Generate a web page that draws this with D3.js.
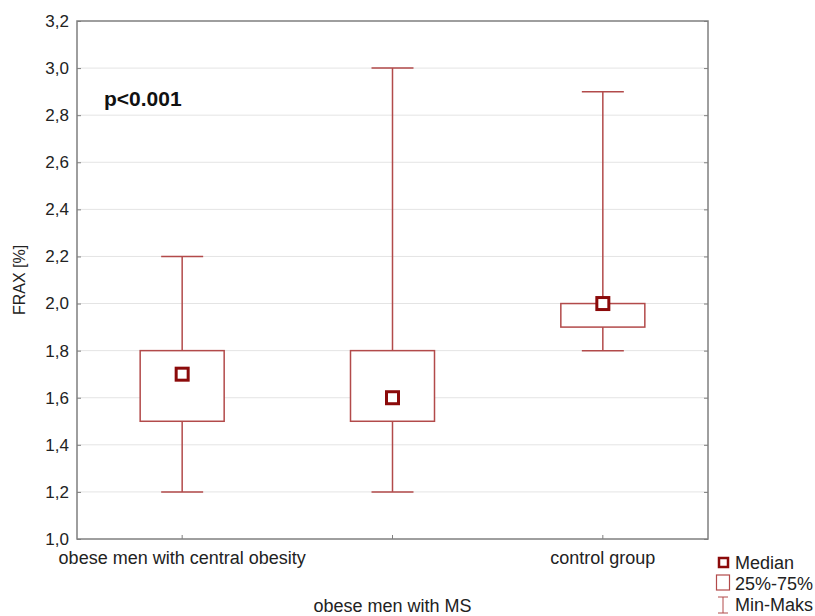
<!DOCTYPE html>
<html>
<head>
<meta charset="utf-8">
<script src="https://cdn.jsdelivr.net/npm/d3@7"></script>
<style>
  body { margin: 0; background: #fff; }
  text { font-family: "Liberation Sans", Arial, sans-serif; }
</style>
</head>
<body>
<svg id="chart" width="815" height="616"></svg>
<script>
// Box plot of FRAX by group

var groups = ["obese men with central obesity", "obese men with MS", "control group"];
var mins    = [1.2, 1.2, 1.8];
var q1s     = [1.5, 1.5, 1.9];
var medians = [1.7, 1.6, 2.0];
var q3s     = [1.8, 1.8, 2.0];
var maxs    = [2.2, 3.0, 2.9];
var yTicks  = [1.0, 1.2, 1.4, 1.6, 1.8, 2.0, 2.2, 2.4, 2.6, 2.8, 3.0, 3.2];
var legendItems = ["Median", "25%-75%", "Min-Maks"];

var boxColor = "#b24a4a",
    medColor = "#8b0a0a",
    frame = "#7f7f7f";

var margin = { left: 77, right: 107, top: 21, bottom: 77 },
    width = 815 - margin.left - margin.right,
    height = 616 - margin.top - margin.bottom;

var svg = d3.select("#chart");
var g = svg.append("g").attr("transform", "translate(" + margin.left + "," + margin.top + ")");

var x = d3.scaleBand().domain(groups).range([0, width]);
var y = d3.scaleLinear().domain([1.0, 3.2]).range([height, 0]);

var fmt = function(d) { return d3.format(".1f")(d).replace(".", ","); };

// grid
g.selectAll("line.grid")
  .data(yTicks.slice(1, -1))
  .enter().append("line")
  .attr("x1", 0).attr("x2", width)
  .attr("y1", function(d) { return y(d); })
  .attr("y2", function(d) { return y(d); })
  .attr("stroke", "#e4e4e4").attr("stroke-width", 1);

// left axis, ticks pointing inward
var yAxis = g.append("g").call(d3.axisLeft(y).tickValues(yTicks).tickFormat(fmt).tickSize(-4).tickPadding(8));
yAxis.select(".domain").remove();
yAxis.selectAll("line").attr("stroke", frame);
yAxis.selectAll("text").attr("font-size", 17).attr("fill", "#222");

var yRight = g.append("g").attr("transform", "translate(" + width + ",0)")
  .call(d3.axisRight(y).tickValues(yTicks).tickFormat("").tickSize(-4));
yRight.select(".domain").remove();
yRight.selectAll("line").attr("stroke", frame);

// bottom ticks
var xAxis = g.append("g").attr("transform", "translate(0," + height + ")")
  .call(d3.axisBottom(x).tickSize(-4).tickFormat(""));
xAxis.select(".domain").remove();
xAxis.selectAll("line").attr("stroke", frame);

// frame
g.append("rect")
  .attr("width", width).attr("height", height)
  .attr("fill", "none").attr("stroke", frame).attr("stroke-width", 1.5);

// category labels, middle one dropped lower
g.selectAll("text.cat")
  .data(groups)
  .enter().append("text")
  .attr("x", function(d) { return x(d) + x.bandwidth() / 2; })
  .attr("y", function(d, i) { return height + (i === 1 ? 73 : 25); })
  .attr("text-anchor", "middle")
  .attr("font-size", 18)
  .attr("fill", "#222")
  .text(function(d) { return d; });

// y label
svg.append("text")
  .attr("transform", "translate(25," + (margin.top + height / 2) + ") rotate(-90)")
  .attr("text-anchor", "middle")
  .attr("font-size", 16)
  .attr("fill", "#222")
  .text("FRAX [%]");

// boxes
var boxW = 84, capW = 42, medS = 12;
var data = groups.map(function(d, i) {
  return { name: d, min: mins[i], q1: q1s[i], med: medians[i], q3: q3s[i], max: maxs[i] };
});

var box = g.selectAll("g.box").data(data).enter().append("g")
  .attr("transform", function(d) { return "translate(" + (x(d.name) + x.bandwidth() / 2) + ",0)"; });

box.append("line")
  .attr("x1", 0).attr("x2", 0)
  .attr("y1", function(d) { return y(d.max); })
  .attr("y2", function(d) { return y(d.q3); })
  .attr("stroke", boxColor).attr("stroke-width", 1.5);
box.append("line")
  .attr("x1", 0).attr("x2", 0)
  .attr("y1", function(d) { return y(d.q1); })
  .attr("y2", function(d) { return y(d.min); })
  .attr("stroke", boxColor).attr("stroke-width", 1.5);
["max", "min"].forEach(function(k) {
  box.append("line")
    .attr("x1", -capW / 2).attr("x2", capW / 2)
    .attr("y1", function(d) { return y(d[k]); })
    .attr("y2", function(d) { return y(d[k]); })
    .attr("stroke", boxColor).attr("stroke-width", 1.5);
});
box.append("rect")
  .attr("x", -boxW / 2).attr("width", boxW)
  .attr("y", function(d) { return y(d.q3); })
  .attr("height", function(d) { return y(d.q1) - y(d.q3); })
  .attr("fill", "#fff").attr("stroke", boxColor).attr("stroke-width", 1.5);
box.append("rect")
  .attr("x", -medS / 2).attr("width", medS)
  .attr("y", function(d) { return y(d.med) - medS / 2; })
  .attr("height", medS)
  .attr("fill", "#fff").attr("stroke", medColor).attr("stroke-width", 3);

// annotation
g.append("text")
  .attr("x", 27).attr("y", 85)
  .attr("font-size", 21).attr("font-weight", "bold").attr("fill", "#111")
  .text("p<0.001");

// legend
var lg = svg.append("g").attr("transform", "translate(716,555)");
lg.append("rect").attr("x", 3).attr("y", 3).attr("width", 9).attr("height", 9)
  .attr("fill", "#fff").attr("stroke", medColor).attr("stroke-width", 2.5);
lg.append("rect").attr("x", 0.5).attr("y", 20).attr("width", 13).attr("height", 15)
  .attr("fill", "#fff").attr("stroke", boxColor).attr("stroke-width", 1.2);
lg.append("line").attr("x1", 7).attr("x2", 7).attr("y1", 42).attr("y2", 58).attr("stroke", boxColor);
lg.append("line").attr("x1", 2).attr("x2", 12).attr("y1", 42).attr("y2", 42).attr("stroke", boxColor);
lg.append("line").attr("x1", 2).attr("x2", 12).attr("y1", 58).attr("y2", 58).attr("stroke", boxColor);
lg.selectAll("text").data(legendItems).enter().append("text")
  .attr("x", 19).attr("y", function(d, i) { return 14 + i * 21; })
  .attr("font-size", 18).attr("fill", "#222")
  .text(function(d) { return d; });
</script>
</body>
</html>
